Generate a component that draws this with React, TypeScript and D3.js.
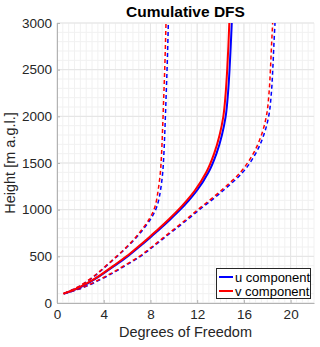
import { useEffect, useRef } from 'react';
import * as d3 from 'd3';

// heights [m a.g.l.] shared by every profile
const heights = [100, 150, 250, 400, 500, 600, 700, 800, 900, 1000, 1100, 1200, 1400, 1600, 1800, 2000, 2250, 2500, 2750, 3000];

// cumulative DFS, u component
const uMean = [0.6, 1.65, 3.17, 4.93, 6.04, 7.02, 7.96, 8.87, 9.73, 10.55, 11.29, 11.95, 12.97, 13.65, 14.12, 14.44, 14.64, 14.77, 14.87, 14.96];
const uLow = [0.58, 1.5, 2.8, 4.25, 5.15, 6.0, 6.78, 7.45, 8.02, 8.45, 8.7, 8.85, 9.05, 9.15, 9.22, 9.28, 9.35, 9.42, 9.48, 9.53];
const uHigh = [0.6, 1.9, 3.7, 5.85, 7.15, 8.2, 9.2, 10.22, 11.23, 12.2, 13.22, 14.18, 15.9, 17.0, 17.7, 18.12, 18.35, 18.47, 18.56, 18.66];

// cumulative DFS, v component
const vMean = [0.55, 1.6, 3.1, 4.85, 5.95, 6.92, 7.85, 8.75, 9.6, 10.4, 11.12, 11.77, 12.78, 13.45, 13.92, 14.24, 14.44, 14.57, 14.67, 14.75];
const vLow = [0.55, 1.45, 2.75, 4.2, 5.1, 5.95, 6.7, 7.35, 7.9, 8.3, 8.52, 8.65, 8.85, 8.95, 9.02, 9.08, 9.15, 9.22, 9.28, 9.33];
const vHigh = [0.55, 1.85, 3.6, 5.75, 7.05, 8.1, 9.1, 10.1, 11.1, 12.05, 13.05, 14.0, 15.7, 16.8, 17.5, 17.92, 18.15, 18.27, 18.36, 18.46];

const xTicks = [0, 4, 8, 12, 16, 20];
const yTicks = [0, 500, 1000, 1500, 2000, 2500, 3000];
const legendLabels = ['u component', 'v component'];

const BLUE = '#0000ff';
const RED = '#ff0000';
const FONT = '"Liberation Sans", Arial, Helvetica, sans-serif';

const App = () => {
    const svgRef = useRef<SVGSVGElement | null>(null);

    useEffect(() => {
        const width = 320;
        const height = 347;
        const margin = { top: 23, right: 6, bottom: 44, left: 57 };

        const svg = d3.select(svgRef.current);
        svg.selectAll('*').remove();

        const x = d3.scaleLinear().domain([0, 22]).range([margin.left, width - margin.right]);
        const y = d3.scaleLinear().domain([0, 3000]).range([height - margin.bottom, margin.top]);

        svg.append('rect').attr('width', width).attr('height', height).attr('fill', '#ffffff');

        // ---- grid ----
        const grid = svg.append('g');
        const minorX = d3.range(0, 22.01, 0.5);
        const minorY = d3.range(0, 3001, 100);

        grid.selectAll('line.mx')
            .data(minorX)
            .enter()
            .append('line')
            .attr('x1', d => x(d)).attr('x2', d => x(d))
            .attr('y1', y(0)).attr('y2', y(3000))
            .attr('stroke', '#f1f1f1')
            .attr('stroke-width', 1);

        grid.selectAll('line.my')
            .data(minorY)
            .enter()
            .append('line')
            .attr('y1', d => y(d)).attr('y2', d => y(d))
            .attr('x1', x(0)).attr('x2', x(22))
            .attr('stroke', '#f1f1f1')
            .attr('stroke-width', 1);

        grid.selectAll('line.gx')
            .data(xTicks)
            .enter()
            .append('line')
            .attr('x1', d => x(d)).attr('x2', d => x(d))
            .attr('y1', y(0)).attr('y2', y(3000))
            .attr('stroke', '#e4e4e4')
            .attr('stroke-width', 1);

        grid.selectAll('line.gy')
            .data(yTicks)
            .enter()
            .append('line')
            .attr('y1', d => y(d)).attr('y2', d => y(d))
            .attr('x1', x(0)).attr('x2', x(22))
            .attr('stroke', '#e4e4e4')
            .attr('stroke-width', 1);

        // ---- curves ----
        svg.append('clipPath')
            .attr('id', 'plot-clip')
            .append('rect')
            .attr('x', x(0)).attr('y', y(3000))
            .attr('width', x(22) - x(0)).attr('height', y(0) - y(3000));

        const curves = svg.append('g').attr('clip-path', 'url(#plot-clip)');

        const line = d3.line<number>()
            .x(d => x(d))
            .y((_, i) => y(heights[i]))
            .curve(d3.curveMonotoneY);

        const series = [
            { values: uLow, color: BLUE, dashed: true },
            { values: uHigh, color: BLUE, dashed: true },
            { values: vLow, color: RED, dashed: true },
            { values: vHigh, color: RED, dashed: true },
            { values: uMean, color: BLUE, dashed: false },
            { values: vMean, color: RED, dashed: false },
        ];

        series.forEach(s => {
            curves.append('path')
                .attr('d', line(s.values))
                .attr('fill', 'none')
                .attr('stroke', s.color)
                .attr('stroke-width', s.dashed ? 1.5 : 2)
                .attr('stroke-dasharray', s.dashed ? '4,3' : null);
        });

        // ---- axes ----
        const axisColor = '#b3b3b3';

        const xAxis = svg.append('g')
            .attr('transform', `translate(0,${y(0)})`)
            .call(d3.axisBottom(x).tickValues(xTicks).tickFormat(d3.format('d')).tickSizeInner(-3).tickSizeOuter(0).tickPadding(6));

        const yAxis = svg.append('g')
            .attr('transform', `translate(${x(0)},0)`)
            .call(d3.axisLeft(y).tickValues(yTicks).tickFormat(d3.format('d')).tickSizeInner(-3).tickSizeOuter(0).tickPadding(5));

        [xAxis, yAxis].forEach(a => {
            a.select('.domain').attr('stroke', axisColor);
            a.selectAll('.tick line').attr('stroke', axisColor);
            a.selectAll('.tick text')
                .attr('fill', '#262626')
                .style('font-family', FONT)
                .style('font-size', '13.5px');
        });

        // ---- labels ----
        svg.append('text')
            .attr('x', (x(0) + x(22)) / 2)
            .attr('y', 17)
            .attr('text-anchor', 'middle')
            .style('font-family', FONT)
            .style('font-size', '15.5px')
            .style('font-weight', 'bold')
            .attr('fill', '#000000')
            .text('Cumulative DFS');

        svg.append('text')
            .attr('x', (x(0) + x(22)) / 2)
            .attr('y', 337)
            .attr('text-anchor', 'middle')
            .style('font-family', FONT)
            .style('font-size', '14.5px')
            .attr('fill', '#262626')
            .text('Degrees of Freedom');

        svg.append('text')
            .attr('transform', 'rotate(-90)')
            .attr('x', -(y(0) + y(3000)) / 2)
            .attr('y', 15)
            .attr('text-anchor', 'middle')
            .style('font-family', FONT)
            .style('font-size', '14.5px')
            .attr('fill', '#262626')
            .text('Height [m a.g.l.]');

        // ---- legend ----
        const legend = svg.append('g').attr('transform', 'translate(216,268)');
        legend.append('rect')
            .attr('x', 0.5).attr('y', 0.5)
            .attr('width', 94).attr('height', 30)
            .attr('fill', '#ffffff')
            .attr('stroke', '#262626')
            .attr('stroke-width', 1);

        legendLabels.forEach((label, i) => {
            const ly = 9 + i * 14;
            legend.append('line')
                .attr('x1', 3).attr('x2', 17)
                .attr('y1', ly).attr('y2', ly)
                .attr('stroke', i === 0 ? BLUE : RED)
                .attr('stroke-width', 2);
            legend.append('text')
                .attr('x', 19)
                .attr('y', ly + 4.5)
                .style('font-family', FONT)
                .style('font-size', '13px')
                .attr('fill', '#000000')
                .text(label);
        });
    }, []);

    return (
        <svg
            ref={svgRef}
            width={320}
            height={347}
            style={{ position: 'absolute', left: 0, top: 0, display: 'block' }}
        />
    );
};

export default App;
